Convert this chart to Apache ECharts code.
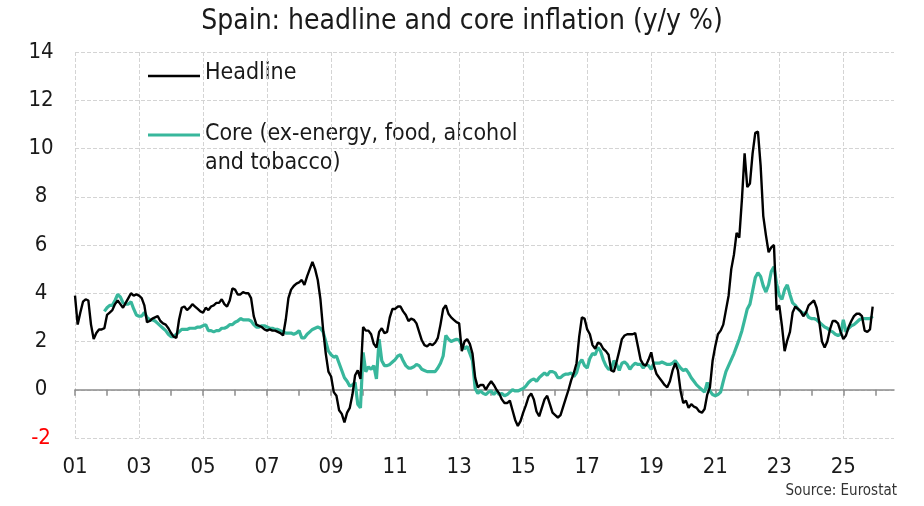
<!DOCTYPE html>
<html>
<head>
<meta charset="utf-8">
<script src="https://cdn.jsdelivr.net/npm/echarts@6/dist/echarts.min.js"></script>
<style>
html,body{margin:0;padding:0;background:#fff;}
#chart{width:924px;height:506px;}
</style>
</head>
<body>
<div id="chart"></div>
<script>
// Monthly data, Jan 2001 onwards (y/y %)
const startYear = 2001;
const axisMonths = 308; // axis runs to mid-2026
const yTicks = [-2, 0, 2, 4, 6, 8, 10, 12, 14];

const headline = [
  3.9, 2.7, 3.2, 3.65, 3.75, 3.7, 2.7, 2.1, 2.35, 2.5, 2.5, 2.55,
  3.1, 3.2, 3.3, 3.55, 3.7, 3.55, 3.4, 3.6, 3.8, 4.0, 3.9, 3.95,
  3.9, 3.8, 3.5, 2.8, 2.85, 2.95, 3.0, 3.05, 2.85, 2.75, 2.7, 2.55,
  2.35, 2.2, 2.15, 2.9, 3.4, 3.45, 3.3, 3.4, 3.55, 3.45, 3.35, 3.25,
  3.2, 3.4, 3.3, 3.45, 3.5, 3.6, 3.6, 3.75, 3.55, 3.45, 3.7, 4.2,
  4.15, 3.95, 3.95, 4.05, 4.0, 4.0, 3.8, 3.05, 2.7, 2.65, 2.6, 2.5,
  2.45, 2.5, 2.45, 2.45, 2.4, 2.35, 2.25, 2.9, 3.8, 4.15, 4.3, 4.4,
  4.45, 4.55, 4.35, 4.7, 5.0, 5.3, 5.0, 4.55, 3.75, 2.5, 1.5, 0.75,
  0.55, -0.1, -0.25, -0.85, -1.0, -1.35, -0.95, -0.75, -0.2, 0.6, 0.8, 0.45,
  2.6, 2.45, 2.45, 2.3, 1.9, 1.75, 2.4, 2.55, 2.35, 2.4, 3.0, 3.35,
  3.35, 3.45, 3.45, 3.25, 3.1, 2.85, 2.95, 2.9, 2.75, 2.4, 2.05, 1.85,
  1.8, 1.9, 1.85, 1.95, 2.15, 2.7, 3.35, 3.5, 3.15, 3.0, 2.9, 2.8,
  2.75, 1.6, 2.0, 2.1, 1.9, 1.5, 0.5, 0.1, 0.2, 0.2, 0.0, 0.2,
  0.35, 0.2, 0.0, -0.15, -0.4, -0.55, -0.55, -0.45, -0.85, -1.25, -1.5, -1.3,
  -0.95, -0.65, -0.3, -0.15, -0.4, -0.9, -1.1, -0.75, -0.4, -0.25, -0.6, -0.95,
  -1.05, -1.15, -1.05, -0.7, -0.35, 0.0, 0.4, 0.7, 1.1, 2.2, 3.0, 2.95,
  2.5, 2.3, 1.85, 1.7, 1.95, 1.9, 1.7, 1.6, 1.45, 0.8, 0.75, 1.15,
  1.6, 2.1, 2.25, 2.3, 2.3, 2.3, 2.35, 1.8, 1.25, 1.05, 1.0, 1.25,
  1.55, 1.0, 0.65, 0.5, 0.35, 0.2, 0.1, 0.35, 0.8, 1.1, 0.8, -0.05,
  -0.55, -0.45, -0.75, -0.6, -0.7, -0.75, -0.9, -0.95, -0.8, -0.2, 0.1, 1.2,
  1.8, 2.3, 2.45, 2.7, 3.3, 3.9, 5.0, 5.6, 6.5, 6.3, 7.9, 9.8,
  8.4, 8.55, 9.8, 10.65, 10.7, 9.3, 7.2, 6.4, 5.7, 5.9, 6.0, 3.3,
  3.5, 2.65, 1.6, 2.05, 2.4, 3.2, 3.45, 3.35, 3.25, 3.05, 3.2, 3.5,
  3.6, 3.7, 3.4, 2.8, 2.0, 1.75, 2.0, 2.5, 2.85, 2.85, 2.75, 2.4,
  2.1, 2.25, 2.6, 2.85, 3.05, 3.15, 3.15, 3.05, 2.45, 2.4, 2.5, 3.45
];

const core = [
  null, null, null, null, null, null, null, null, null, null, null, 3.25,
  3.4, 3.5, 3.5, 3.7, 3.95, 3.85, 3.6, 3.55, 3.55, 3.65, 3.35, 3.1,
  3.05, 3.05, 3.2, 3.0, 2.9, 2.9, 2.85, 2.75, 2.65, 2.55, 2.45, 2.3,
  2.2, 2.2, 2.3, 2.4, 2.5, 2.5, 2.5, 2.55, 2.55, 2.55, 2.6, 2.6,
  2.65, 2.7, 2.45, 2.45, 2.4, 2.45, 2.45, 2.55, 2.55, 2.6, 2.7, 2.7,
  2.8, 2.85, 2.95, 2.9, 2.9, 2.9, 2.85, 2.7, 2.6, 2.6, 2.65, 2.65,
  2.6, 2.55, 2.55, 2.5, 2.5, 2.45, 2.4, 2.35, 2.35, 2.35, 2.3, 2.35,
  2.45, 2.15, 2.15, 2.3, 2.4, 2.5, 2.55, 2.6, 2.55, 2.4, 2.0, 1.6,
  1.45, 1.35, 1.4, 1.1, 0.8, 0.5, 0.35, 0.15, 0.2, 0.3, -0.6, -0.75,
  1.55, 0.75, 0.95, 0.85, 1.0, 0.45, 2.1, 1.2, 1.0, 1.0, 1.05, 1.15,
  1.25, 1.4, 1.45, 1.2, 1.0, 0.9, 0.9, 0.95, 1.05, 1.0, 0.85, 0.8,
  0.75, 0.75, 0.75, 0.75, 0.9, 1.1, 1.4, 2.25, 2.1, 2.0, 2.05, 2.1,
  2.05, 1.85, 1.7, 1.8, 1.5, 1.2, 0.05, -0.15, -0.05, -0.15, -0.2, -0.1,
  -0.05, -0.2, -0.05, -0.2, -0.15, -0.25, -0.2, -0.1, 0.0, -0.05, -0.05, 0.0,
  0.05, 0.15, 0.3, 0.4, 0.45, 0.35, 0.5, 0.6, 0.7, 0.6, 0.75, 0.75,
  0.7, 0.5, 0.5, 0.6, 0.65, 0.65, 0.7, 0.55, 0.7, 1.1, 1.25, 1.0,
  0.9, 1.3, 1.5, 1.45, 1.75, 1.6, 1.25, 1.0, 0.85, 0.85, 1.2, 1.05,
  0.8, 1.1, 1.15, 1.05, 0.85, 1.0, 1.1, 1.05, 1.05, 0.9, 1.05, 1.0,
  0.85, 1.1, 1.1, 1.1, 1.15, 1.1, 1.05, 1.05, 1.1, 1.2, 1.05, 0.9,
  0.8, 0.85, 0.7, 0.5, 0.35, 0.2, 0.1, 0.0, -0.1, 0.3, -0.05, -0.2,
  -0.25, -0.2, -0.1, 0.35, 0.75, 1.0, 1.25, 1.5, 1.8, 2.1, 2.45, 2.9,
  3.35, 3.55, 4.1, 4.65, 4.85, 4.7, 4.3, 4.05, 4.35, 4.9, 5.1, 4.4,
  3.9, 3.75, 4.15, 4.35, 3.95, 3.6, 3.5, 3.35, 3.25, 3.15, 3.2, 3.0,
  2.95, 2.95, 2.9, 2.8, 2.7, 2.6, 2.55, 2.45, 2.4, 2.3, 2.25, 2.3,
  2.9, 2.4, 2.55, 2.65, 2.7, 2.8, 2.9, 2.95, 2.95, 2.95, 2.95, 3.05
];

const months = [];
for (let k = 0; k < axisMonths; k++) {
  const y = startYear + Math.floor(k / 12);
  const m = (k % 12) + 1;
  months.push(y + '-' + (m < 10 ? '0' + m : m));
}

const FONT = '"DejaVu Sans Condensed", "Liberation Sans Narrow", sans-serif';
const chart = echarts.init(document.getElementById('chart'), null, {renderer: 'canvas'});

chart.setOption({
  backgroundColor: '#ffffff',
  animation: false,
  textStyle: {fontFamily: FONT},
  title: {
    text: 'Spain: headline and core inflation (y/y %)',
    left: 'center',
    top: 3,
    textStyle: {fontFamily: FONT, fontSize: 28, fontWeight: 'normal', color: '#1a1a1a'}
  },
  grid: {left: 75, right: 30, top: 52, bottom: 68, containLabel: false},
  xAxis: [
    {
      type: 'category',
      data: months,
      boundaryGap: false,
      position: 'bottom',
      axisLine: {show: false, onZero: false},
      axisTick: {show: false},
      axisLabel: {
        interval: function (idx) { return idx % 24 === 0; },
        formatter: function (v) { return v.slice(2, 4); },
        fontFamily: FONT, fontSize: 22, color: '#1a1a1a', margin: 18
      },
      splitLine: {
        show: true,
        interval: function (idx) { return idx % 24 === 0; },
        lineStyle: {color: '#d4d4d4', type: 'dashed', width: 1}
      }
    },
    {
      type: 'category',
      data: months,
      boundaryGap: false,
      position: 'bottom',
      axisLine: {show: true, onZero: true, onZeroAxisIndex: 0, lineStyle: {color: '#8c8c8c', width: 1.5}},
      axisTick: {
        show: true,
        interval: function (idx) { return idx % 12 === 0; },
        length: 6,
        lineStyle: {color: '#8c8c8c', width: 1.5}
      },
      axisLabel: {show: false},
      splitLine: {show: false}
    }
  ],
  yAxis: {
    type: 'value',
    min: -2,
    max: 14,
    interval: 2,
    axisLine: {show: false},
    axisTick: {show: false},
    axisLabel: {
      fontFamily: FONT, fontSize: 22, align: 'center', margin: 34,
      color: function (v) { return Number(v) === yTicks[0] ? '#ff0000' : '#1a1a1a'; }
    },
    splitLine: {show: true, lineStyle: {color: '#d4d4d4', type: 'dashed', width: 1}}
  },
  series: [
    {
      name: 'Core (ex-energy, food, alcohol and tobacco)',
      type: 'line',
      xAxisIndex: 0,
      data: core,
      showSymbol: false,
      connectNulls: false,
      lineStyle: {color: '#38b79c', width: 3.2},
      itemStyle: {color: '#38b79c'},
      z: 3
    },
    {
      name: 'Headline',
      type: 'line',
      xAxisIndex: 0,
      data: headline,
      showSymbol: false,
      lineStyle: {color: '#000000', width: 2.4},
      itemStyle: {color: '#000000'},
      z: 4
    }
  ],
  graphic: [
    {type: 'line', shape: {x1: 148, y1: 76, x2: 200, y2: 76}, style: {stroke: '#000', lineWidth: 2.5}},
    {type: 'text', left: 205, top: 62, style: {text: 'Headline', font: '23px ' + FONT, fill: '#1a1a1a'}},
    {type: 'line', shape: {x1: 148, y1: 135, x2: 200, y2: 135}, style: {stroke: '#38b79c', lineWidth: 3.2}},
    {type: 'text', left: 205, top: 120, style: {text: 'Core (ex-energy, food, alcohol\nand tobacco)', font: '23px ' + FONT, lineHeight: 29, fill: '#1a1a1a'}},
    {type: 'text', right: 27, top: 484, style: {text: 'Source: Eurostat', font: '15px ' + FONT, fill: '#333'}}
  ]
});
</script>
</body>
</html>
